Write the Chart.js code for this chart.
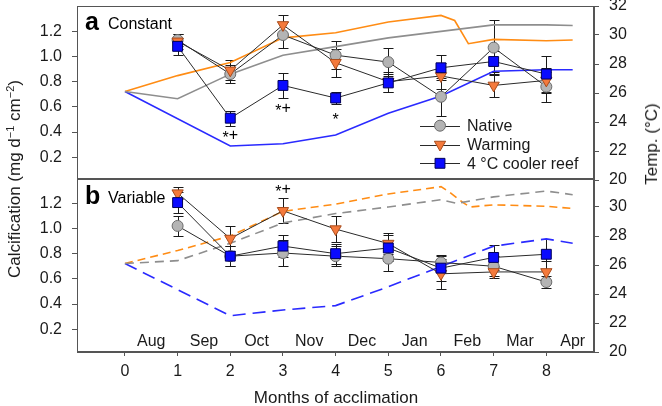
<!DOCTYPE html>
<html>
<head>
<meta charset="utf-8">
<script src="https://cdn.jsdelivr.net/npm/chart.js@4.4.0/dist/chart.umd.min.js"></script>
<style>
html, body { margin: 0; padding: 0; background: #fff; }
#wrap { position: relative; width: 662px; height: 406px; overflow: hidden; font-family: "Liberation Sans", Arial, sans-serif; color: #1a1a1a; }
#boxA { position: absolute; left: 0; top: -15px; width: 662px; height: 216px; }
#boxB { position: absolute; left: 0; top: 157px; width: 662px; height: 249px; }
.ttl { position: absolute; white-space: nowrap; font-size: 17px; line-height: 20px; }
#ylab { left: 15px; top: 179px; transform: translate(-50%, -50%) rotate(-90deg); }
#tlab { left: 652px; top: 144px; transform: translate(-50%, -50%) rotate(-90deg); }
#xlab { left: 336px; top: 398px; transform: translate(-50%, -50%); }
sup { font-size: 11px; vertical-align: 6px; line-height: 0; }
</style>
</head>
<body>
<div id="wrap">
  <div id="boxA"><canvas id="chartA" width="662" height="216"></canvas></div>
  <div id="boxB"><canvas id="chartB" width="662" height="249"></canvas></div>
  <div class="ttl" id="ylab">Calcification (mg d<sup>&minus;1</sup> cm<sup>&minus;2</sup>)</div>
  <div class="ttl" id="tlab">Temp. (&deg;C)</div>
  <div class="ttl" id="xlab">Months of acclimation</div>
</div>
<script>
// axis ticks / categories
const xTicks = [0, 1, 2, 3, 4, 5, 6, 7, 8];
const yTicks = [0.2, 0.4, 0.6, 0.8, 1.0, 1.2];
const tTicksA = [20, 22, 24, 26, 28, 30, 32];
const tTicksB = [20, 22, 24, 26, 28, 30];
const monthNames = ['Aug', 'Sep', 'Oct', 'Nov', 'Dec', 'Jan', 'Feb', 'Mar', 'Apr'];
const months = [1, 2, 3, 4, 5, 6, 7, 8];

// panel a - constant: calcification (mean, s.e.)
const nativeA = [1.13, 0.86, 1.17, 1.01, 0.955, 0.68, 1.07, 0.76];
const nativeErrA = [0.05, 0.07, 0.10, 0.11, 0.11, 0.15, 0.22, 0.12];
const warmA = [1.12, 0.89, 1.25, 0.95, 0.80, 0.845, 0.77, 0.81];
const warmErrA = [0.06, 0.08, 0.08, 0.11, 0.08, 0.10, 0.09, 0.10];
const coolA = [1.08, 0.51, 0.77, 0.67, 0.79, 0.91, 0.96, 0.86];
const coolErrA = [0.07, 0.06, 0.10, 0.05, 0.07, 0.10, 0.08, 0.14];

// panel a - temperature profiles
const tNativeAx = [0, 1, 2, 3, 4, 5, 6, 7, 8, 8.5];
const tNativeA = [26.1, 25.6, 27.3, 28.6, 29.2, 29.8, 30.25, 30.7, 30.7, 30.65];
const tWarmAx = [0, 1, 2, 3, 4, 5, 6, 6.26, 6.52, 7, 8, 8.5];
const tWarmA = [26.1, 27.2, 28.1, 29.8, 30.15, 30.9, 31.35, 31.0, 29.4, 29.7, 29.6, 29.65];
const tCoolAx = [0, 2, 3, 4, 5, 6, 7, 8, 8.5];
const tCoolA = [26.1, 22.35, 22.5, 23.1, 24.6, 25.8, 27.5, 27.6, 27.6];

// panel b - variable: calcification (mean, s.e.)
const nativeB = [1.02, 0.78, 0.805, 0.78, 0.76, 0.73, 0.70, 0.575];
const nativeErrB = [0.08, 0.08, 0.10, 0.08, 0.10, 0.06, 0.08, 0.05];
const warmB = [1.28, 0.92, 1.14, 0.995, 0.88, 0.64, 0.655, 0.655];
const warmErrB = [0.05, 0.10, 0.10, 0.10, 0.08, 0.12, 0.05, 0.09];
const coolB = [1.205, 0.78, 0.86, 0.80, 0.845, 0.685, 0.77, 0.795];
const coolErrB = [0.08, 0.08, 0.09, 0.08, 0.10, 0.10, 0.10, 0.12];

// panel b - temperature profiles
const tNativeBx = [0, 1, 2, 3, 4, 5, 6, 6.3, 7, 8, 8.5];
const tNativeB = [26.1, 26.3, 27.5, 28.9, 29.55, 30.0, 30.5, 30.25, 30.7, 31.1, 30.85];
const tWarmBx = [0, 1, 2, 3, 4, 5, 6, 6.17, 6.42, 6.55, 7, 8, 8.5];
const tWarmB = [26.1, 27.0, 28.0, 29.7, 30.2, 30.9, 31.4, 31.0, 30.3, 30.0, 30.15, 30.05, 29.9];
const tCoolBx = [0, 2, 3, 4, 5, 6, 7, 8, 8.5];
const tCoolB = [26.1, 22.5, 22.9, 23.2, 24.5, 25.9, 27.3, 27.8, 27.5];

// significance marks
const marksA = [{ x: 2, y: 0.374, t: '*+' }, { x: 3, y: 0.587, t: '*+' }, { x: 4, y: 0.515, t: '*' }];
const marksB = [{ x: 3, y: 1.306, t: '*+' }];

const FONT = '"Liberation Sans", Arial, sans-serif';
const AXIS = '#555';
const PAD = 21;

const C_NATIVE = { bg: '#b4b4b4', border: '#6a6a6a', line: '#8e8e8e' };
const C_WARM = { bg: '#f47a3c', border: '#a84c1c', line: '#ff8c14' };
const C_COOL = { bg: '#0a0aff', border: '#00005a', line: '#2a2aff' };

function pts(xs, ys) {
    return xs.map((x, i) => ({ x: x, y: ys[i] }));
}

function calcSet(label, ys, errs, col, style, radius, rotation, order) {
    return {
        label: label,
        data: pts(months, ys),
        errs: errs,
        yAxisID: 'y',
        borderColor: '#2a2a2a',
        borderWidth: 1,
        pointStyle: style,
        pointRadius: radius,
        pointRotation: rotation,
        pointBackgroundColor: col.bg,
        pointBorderColor: col.border,
        pointBorderWidth: 1,
        order: order
    };
}

function tempSet(xs, ys, color, dash) {
    return {
        data: pts(xs, ys),
        yAxisID: 't',
        borderColor: color,
        borderWidth: 1.6,
        borderDash: dash,
        pointRadius: 0,
        order: 5
    };
}

function panelPlugin(cfg) {
    return {
        id: 'panel' + cfg.letter,
        beforeDatasetsDraw(chart) {
            // error bars
            const { ctx, scales: { x, y } } = chart;
            ctx.save();
            ctx.strokeStyle = '#1a1a1a';
            ctx.lineWidth = 1;
            chart.data.datasets.forEach(ds => {
                if (!ds.errs) return;
                ds.data.forEach((p, i) => {
                    const px = Math.round(x.getPixelForValue(p.x)) + 0.5;
                    const y1 = Math.round(y.getPixelForValue(p.y - ds.errs[i])) + 0.5;
                    const y2 = Math.round(y.getPixelForValue(p.y + ds.errs[i])) + 0.5;
                    ctx.beginPath();
                    ctx.moveTo(px, y1); ctx.lineTo(px, y2);
                    ctx.moveTo(px - 5, y1); ctx.lineTo(px + 5, y1);
                    ctx.moveTo(px - 5, y2); ctx.lineTo(px + 5, y2);
                    ctx.stroke();
                });
            });
            ctx.restore();
        },
        afterDraw(chart) {
            const { ctx, chartArea: a, scales: { x, y } } = chart;
            ctx.save();
            // frame
            ctx.strokeStyle = AXIS;
            ctx.lineWidth = 1;
            ctx.strokeRect(Math.round(a.left) + 0.5, Math.round(a.top) + 0.5,
                Math.round(a.right - a.left) - 1, Math.round(a.bottom - a.top) - 1);

            // panel letter + name
            ctx.fillStyle = '#000';
            ctx.textBaseline = 'alphabetic';
            ctx.textAlign = 'left';
            ctx.font = 'bold 25px ' + FONT;
            ctx.fillText(cfg.letter, a.left + 8, a.top + cfg.labelY);
            ctx.font = '16px ' + FONT;
            ctx.fillText(cfg.name, a.left + 31, a.top + cfg.labelY - 1);

            // significance marks (asterisk sits a little low, like the original)
            ctx.textBaseline = 'middle';
            ctx.font = '16px ' + FONT;
            cfg.marks.forEach(m => {
                const cx = x.getPixelForValue(m.x);
                const cy = y.getPixelForValue(m.y);
                let sx = cx - ctx.measureText(m.t).width / 2;
                ctx.textAlign = 'left';
                for (const ch of m.t) {
                    ctx.fillText(ch, sx, ch === '*' ? cy + 3 : cy);
                    sx += ctx.measureText(ch).width;
                }
            });

            // month names
            ctx.textAlign = 'center';
            if (cfg.monthRow) {
                ctx.fillStyle = '#1a1a1a';
                monthNames.forEach((n, i) => {
                    ctx.fillText(n, x.getPixelForValue(i + 0.5), y.getPixelForValue(0.1));
                });
            }

            // legend
            if (cfg.legend) {
                const rows = [
                    { t: 'Native', c: C_NATIVE, s: 'circle', r: 5.5, rot: 0 },
                    { t: 'Warming', c: C_WARM, s: 'triangle', r: 6.5, rot: 180 },
                    { t: '4 \u00b0C cooler reef', c: C_COOL, s: 'rect', r: 7, rot: 0 }
                ];
                rows.forEach((row, i) => {
                    const ly = a.top + 119.7 + i * 18.8;
                    ctx.strokeStyle = '#2a2a2a';
                    ctx.lineWidth = 1;
                    ctx.beginPath();
                    ctx.moveTo(420, Math.round(ly) + 0.5);
                    ctx.lineTo(460, Math.round(ly) + 0.5);
                    ctx.stroke();
                    ctx.fillStyle = row.c.bg;
                    ctx.strokeStyle = row.c.border;
                    Chart.helpers.drawPoint(ctx, { pointStyle: row.s, radius: row.r, rotation: row.rot, borderWidth: 1 }, 440, ly);
                    ctx.fillStyle = '#1a1a1a';
                    ctx.textAlign = 'left';
                    ctx.fillText(row.t, 467, ly + 1);
                });
            }
            ctx.restore();
        }
    };
}

function makeOptions(tTicks, showX) {
    const tickFont = { family: FONT, size: 16 };
    const xScale = {
        type: 'linear',
        min: -0.91,
        max: 8.905,
        display: showX,
        afterBuildTicks: s => { s.ticks = xTicks.map(v => ({ value: v })); },
        grid: { drawOnChartArea: false, drawTicks: true, tickLength: 4, color: AXIS },
        border: { color: AXIS },
        ticks: { font: tickFont, color: '#1a1a1a', padding: 6, maxRotation: 0, callback: v => String(v) }
    };
    if (showX) {
        xScale.afterFit = s => { s.height = 54; };
    }
    return {
        responsive: false,
        animation: false,
        devicePixelRatio: 1,
        layout: { padding: { top: PAD, bottom: showX ? 0 : PAD, left: 0, right: 0 } },
        plugins: { legend: { display: false }, tooltip: { enabled: false } },
        elements: { line: { tension: 0 } },
        scales: {
            x: xScale,
            y: {
                type: 'linear',
                position: 'left',
                min: 0.02,
                max: 1.4,
                afterBuildTicks: s => { s.ticks = yTicks.map(v => ({ value: v })); },
                afterFit: s => { s.width = 77; },
                grid: { drawOnChartArea: false, drawTicks: true, tickLength: 5, color: AXIS },
                border: { color: AXIS },
                ticks: { font: tickFont, color: '#1a1a1a', padding: 10, callback: v => v.toFixed(1) }
            },
            t: {
                type: 'linear',
                position: 'right',
                min: 20,
                max: 32,
                afterBuildTicks: s => { s.ticks = tTicks.map(v => ({ value: v })); },
                afterFit: s => { s.width = 68; },
                grid: { drawOnChartArea: false, drawTicks: true, tickLength: 5, color: AXIS },
                border: { color: AXIS },
                ticks: { font: tickFont, color: '#1a1a1a', padding: 10, callback: v => String(v) }
            }
        }
    };
}

new Chart(document.getElementById('chartA'), {
    type: 'line',
    data: {
        datasets: [
            calcSet('4 \u00b0C cooler reef', coolA, coolErrA, C_COOL, 'rect', 7, 0, 0),
            calcSet('Warming', warmA, warmErrA, C_WARM, 'triangle', 6.5, 180, 1),
            calcSet('Native', nativeA, nativeErrA, C_NATIVE, 'circle', 5.5, 0, 2),
            tempSet(tNativeAx, tNativeA, C_NATIVE.line, []),
            tempSet(tWarmAx, tWarmA, C_WARM.line, []),
            tempSet(tCoolAx, tCoolA, C_COOL.line, [])
        ]
    },
    options: makeOptions(tTicksA, false),
    plugins: [panelPlugin({ letter: 'a', name: 'Constant', labelY: 24, marks: marksA, legend: true, monthRow: false })]
});

new Chart(document.getElementById('chartB'), {
    type: 'line',
    data: {
        datasets: [
            calcSet('4 \u00b0C cooler reef', coolB, coolErrB, C_COOL, 'rect', 7, 0, 0),
            calcSet('Warming', warmB, warmErrB, C_WARM, 'triangle', 6.5, 180, 1),
            calcSet('Native', nativeB, nativeErrB, C_NATIVE, 'circle', 5.5, 0, 2),
            tempSet(tNativeBx, tNativeB, C_NATIVE.line, [9, 6]),
            tempSet(tWarmBx, tWarmB, C_WARM.line, [8, 5]),
            tempSet(tCoolBx, tCoolB, C_COOL.line, [13, 7])
        ]
    },
    options: makeOptions(tTicksB, true),
    plugins: [panelPlugin({ letter: 'b', name: 'Variable', labelY: 26, marks: marksB, legend: false, monthRow: true })]
});
</script>
</body>
</html>
